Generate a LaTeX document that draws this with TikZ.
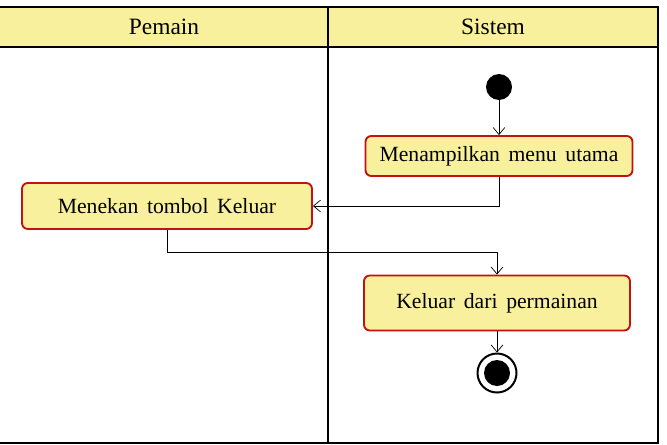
\documentclass[tikz,border=0pt]{standalone}
\usepackage{fontspec}
\setmainfont{Liberation Serif}
\usetikzlibrary{arrows.meta}
\definecolor{laneyellow}{RGB}{248,240,156}
\definecolor{boxred}{RGB}{196,18,18}
\newcommand{\actfont}{\fontsize{18.5}{21}\selectfont\spaceskip 0.4em plus 0.1em\relax}
\newcommand{\lanefont}{\fontsize{20}{23}\selectfont}
\tikzset{action/.style = {draw=boxred, line width=1.6pt, fill=laneyellow,
    rounded corners=5pt, inner sep=0pt, font=\actfont},
  flow/.style = {-{Straight Barb[length=6pt,width=10pt]}, line width=.6pt},
  lane/.style = {font=\lanefont}}

\begin{document}
\begin{tikzpicture}[x=.03cm, y=-.03cm]
      \useasboundingbox (0,0) rectangle (667,444);
      % swimlanes
      \draw[fill=laneyellow, line width=.9pt] (-2,7) rectangle (658,47);
      \draw[line width=.9pt] (-2,47) rectangle (658,443);
      \draw[line width=.9pt] (328,7) -- (328,443);
      \node[lane] (pemain) at (164,27) {Pemain};
      \node[lane] (sistem) at (493,27) {Sistem};
      % states
      \node[circle, fill=black, minimum size=.78cm, inner sep=0pt] (start) at (499,87) {};
      \node[action, minimum width=8.01cm, minimum height=1.2cm] (menu) at (499,156) {Menampilkan menu utama};
      \node[action, minimum width=8.7cm, minimum height=1.38cm] (tekan) at (167,206) {Menekan tombol Keluar};
      \node[action, minimum width=7.98cm, minimum height=1.65cm] (keluar) at (497,303) {Keluar dari permainan};
      \node[circle, draw=black, line width=1.7pt, fill=white, minimum size=1.17cm, inner sep=0pt] (end) at (497,373) {};
      \node[circle, fill=black, minimum size=.78cm, inner sep=0pt] (endin) at (end) {};
      \coordinate (turn) at (497,252);
      % flows
      \draw[flow] (start) -- (menu);
      \draw[flow] (menu.south) |- (tekan.east);
      \draw[flow] (tekan.south) |- (turn) -- (keluar.north);
      \draw[flow] (keluar.south) -- (end.north);
\end{tikzpicture}
\end{document}
